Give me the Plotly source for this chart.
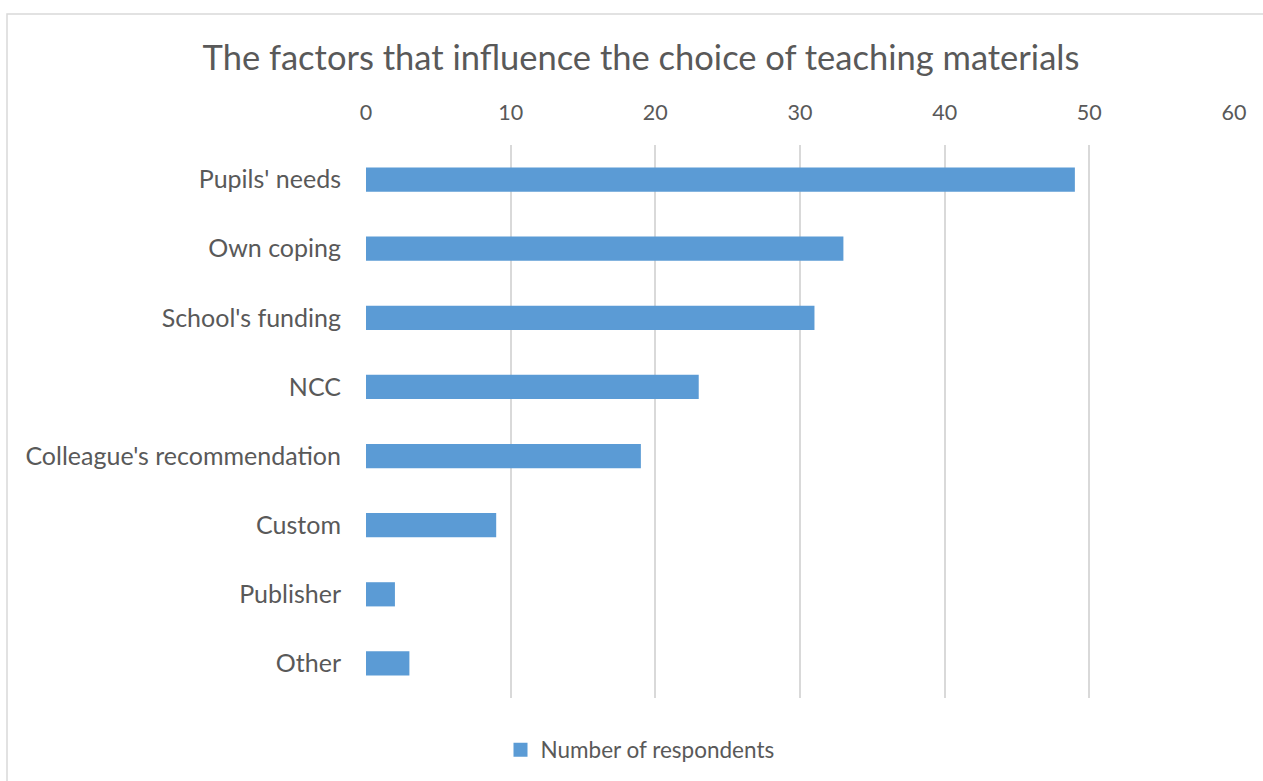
import plotly.graph_objects as go

# Survey results: factors influencing the choice of teaching materials
factors = [
    "Pupils' needs",
    "Own coping",
    "School's funding",
    "NCC",
    "Colleague's recommendation",
    "Custom",
    "Publisher",
    "Other",
]
respondents = [49, 33, 31, 23, 19, 9, 2, 3]
x_ticks = [0, 10, 20, 30, 40, 50, 60]
series_name = "Number of respondents"

TEXT = "#595959"
GRID = "#D9D9D9"
BAR = "#5B9BD5"
FONT = "Lato"

W, H = 1263, 781
L, R, T, B = 366, 29, 145, 83
pw, ph = W - L - R, H - T - B


def px(xp):
    return (xp - L) / pw


def py(yp):
    return (H - B - yp) / ph


fig = go.Figure()
fig.add_trace(
    go.Bar(
        x=respondents,
        y=factors,
        orientation="h",
        marker=dict(color=BAR, line=dict(width=0)),
        name=series_name,
        showlegend=False,
    )
)
# legend entry with a larger square swatch
fig.add_trace(
    go.Scatter(
        x=[None],
        y=[None],
        mode="markers",
        marker=dict(symbol="square", size=14, color=BAR),
        name=series_name,
        showlegend=True,
    )
)

fig.update_layout(
    width=W,
    height=H,
    margin=dict(l=L, r=R, t=T, b=B, pad=0),
    paper_bgcolor="white",
    plot_bgcolor="white",
    bargap=0.65,
    font=dict(family=FONT, color=TEXT),
    title=dict(
        text="The factors that influence the choice of teaching materials",
        x=641 / W,
        xanchor="center",
        y=1 - 58 / H,
        yanchor="middle",
        font=dict(size=34.5, color=TEXT, family=FONT),
    ),
    xaxis=dict(
        side="top",
        range=[0, 60],
        tickvals=x_ticks,
        ticktext=[str(v) for v in x_ticks],
        showgrid=True,
        gridcolor=GRID,
        gridwidth=1.5,
        zeroline=False,
        showline=False,
        ticks="",
        ticklabelstandoff=20,
        tickfont=dict(size=21.5, color=TEXT, family=FONT),
        fixedrange=True,
    ),
    yaxis=dict(
        categoryorder="array",
        categoryarray=factors,
        autorange="reversed",
        showgrid=False,
        zeroline=False,
        showline=False,
        ticks="",
        ticklabelstandoff=24,
        tickfont=dict(size=25, color=TEXT, family=FONT),
        fixedrange=True,
    ),
    legend=dict(
        orientation="h",
        xref="container",
        yref="container",
        x=640 / W,
        xanchor="center",
        y=1 - 750 / H,
        yanchor="middle",
        font=dict(size=22.5, color=TEXT, family=FONT),
        itemwidth=30,
    ),
    shapes=[
        dict(
            type="rect",
            xref="paper",
            yref="paper",
            x0=px(7),
            x1=px(1275),
            y0=py(795),
            y1=py(14),
            line=dict(color=GRID, width=1.5),
            fillcolor="rgba(0,0,0,0)",
            layer="below",
        )
    ],
)

fig.write_html("out.html")
